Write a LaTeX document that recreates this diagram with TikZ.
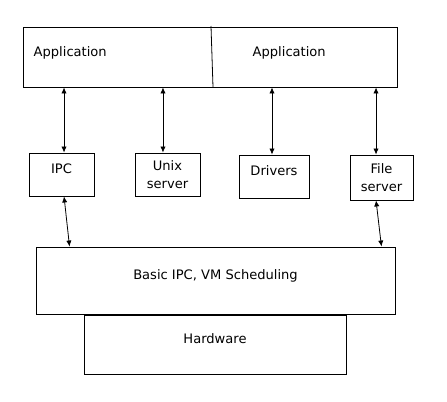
\documentclass[tikz,border=0pt]{standalone}
\usepackage{fontspec}
\setmainfont{DejaVu Sans}
\usetikzlibrary{positioning, arrows.meta, calc}
\tikzset{
    % Block styles
    layer/.style={rectangle, draw, line width=0.7pt, inner sep=2pt, align=center,
                  font=\fontsize{9.8}{13}\selectfont},
    raised/.style={text height=7.5pt, text depth=8.3pt},
    server/.style={layer, minimum height=32.25pt},
    % Arrow styles
    link/.style={{Latex[length=4.5pt, width=4pt]}-{Latex[length=4.5pt, width=4pt]}, line width=0.6pt},
}

\begin{document}
\begin{tikzpicture}[x=0.75pt, y=-0.75pt]
    \useasboundingbox (0,0) rectangle (447,401);

    % Applications
    \node[layer, minimum width=280.5pt, minimum height=45pt] (apps) at (210,57) {};
    \draw[line width=0.6pt] (211,26) coordinate (divtop) -- (213,87) coordinate (divbot);
    \node[anchor=west, font=\fontsize{9.8}{13}\selectfont] (app1) at (29,52.5) {Application};
    \node[anchor=west, font=\fontsize{9.8}{13}\selectfont] (app2) at (248,52.5) {Application};

    % Servers
    \node[server, raised, minimum width=48.75pt] (ipc) at (61.5,174.5) {IPC};
    \node[server, minimum width=48.75pt] (unix) at (167.5,174.5) {Unix\\server};
    \node[server, raised, minimum width=52.5pt] (drivers) at (274,176.5) {Drivers};
    \node[server, minimum width=47.25pt, minimum height=33.75pt] (file) at (381.5,177.5) {File\\server};

    % Kernel and hardware
    \node[layer, raised, minimum width=269.25pt, minimum height=50.25pt] (basic) at (215.5,280.5) {Basic IPC, VM Scheduling};
    \node[layer, raised, minimum width=196.5pt, minimum height=44.25pt] (hw) at (215,344.5) {Hardware};

    % Links to the applications
    \foreach \n/\dx in {ipc/1.9, unix/-3.4, drivers/-1.5, file/-4.1} {
        \draw[link] ([xshift=\dx pt]\n.north) -- ([xshift=\dx pt]\n.north |- apps.south);
    }

    % Links to the kernel
    \draw[link] ([xshift=1.9pt]ipc.south) -- ($(basic.north west)+(25.5pt,0)$);
    \draw[link] ([xshift=-4.1pt]file.south) -- ($(basic.north east)+(-10.5pt,0)$);
\end{tikzpicture}
\end{document}
